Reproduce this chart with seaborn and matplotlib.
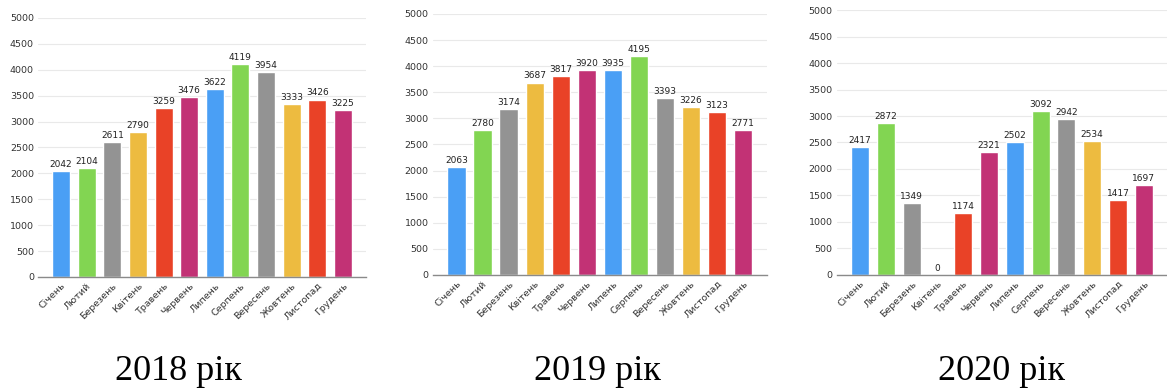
import matplotlib
matplotlib.use("Agg")
import matplotlib.pyplot as plt
import seaborn as sns
import pandas as pd

months = ["Січень", "Лютий", "Березень", "Квітень", "Травень", "Червень",
          "Липень", "Серпень", "Вересень", "Жовтень", "Листопад", "Грудень"]
values_2018 = [2042, 2104, 2611, 2790, 3259, 3476, 3622, 4119, 3954, 3333, 3426, 3225]
values_2019 = [2063, 2780, 3174, 3687, 3817, 3920, 3935, 4195, 3393, 3226, 3123, 2771]
values_2020 = [2417, 2872, 1349, 0, 1174, 2321, 2502, 3092, 2942, 2534, 1417, 1697]
titles = ["2018 рік", "2019 рік", "2020 рік"]
colors = ["#4A9FF5", "#82D552", "#939393", "#EDBB40", "#E94227", "#C23275",
          "#4A9FF5", "#82D552", "#939393", "#EDBB40", "#E94227", "#C23275"]
yticks = [0, 500, 1000, 1500, 2000, 2500, 3000, 3500, 4000, 4500, 5000]

sns.set_theme(style="white")
plt.rcParams['font.family'] = ['DejaVu Sans']

fig = plt.figure(figsize=(11.67, 3.91), dpi=100)
positions = [
    [0.0326, 0.2916, 0.281, 0.6624],
    [0.371, 0.2967, 0.286, 0.6675],
    [0.717, 0.2967, 0.283, 0.6777],
]
title_x = [0.153, 0.512, 0.858]

for i, vals in enumerate([values_2018, values_2019, values_2020]):
    ax = fig.add_axes(positions[i])
    df = pd.DataFrame({"month": months, "value": vals})
    sns.barplot(data=df, x="month", y="value", hue="month", palette=colors,
                legend=False, width=0.7, ax=ax, saturation=1)
    for c in ax.containers:
        ax.bar_label(c, fmt="%d", fontsize=6.5, color="#222222", padding=1.5)
    ax.set_ylim(0, 5000)
    ax.set_xlim(-0.9, 11.9)
    ax.set_yticks(yticks)
    ax.set_yticklabels([str(t) for t in yticks], fontsize=6.8, color="#333333")
    ax.set_xticks(range(12))
    ax.set_xticklabels(months, rotation=45, ha="right", rotation_mode="anchor",
                       fontsize=6.8, color="#333333")
    ax.tick_params(axis="both", length=0, pad=3)
    ax.set_xlabel("")
    ax.set_ylabel("")
    ax.yaxis.grid(True, color="#e9e9e9", linewidth=0.8)
    ax.set_axisbelow(True)
    for s in ["top", "right", "left"]:
        ax.spines[s].set_visible(False)
    ax.spines["bottom"].set_color("#8a8a8a")
    ax.spines["bottom"].set_linewidth(1.0)
    fig.text(title_x[i], 0.028, titles[i], ha="center", va="baseline",
             fontsize=26, family=["Liberation Serif"], color="black")

fig.savefig("out.png", dpi=100, facecolor="white")
